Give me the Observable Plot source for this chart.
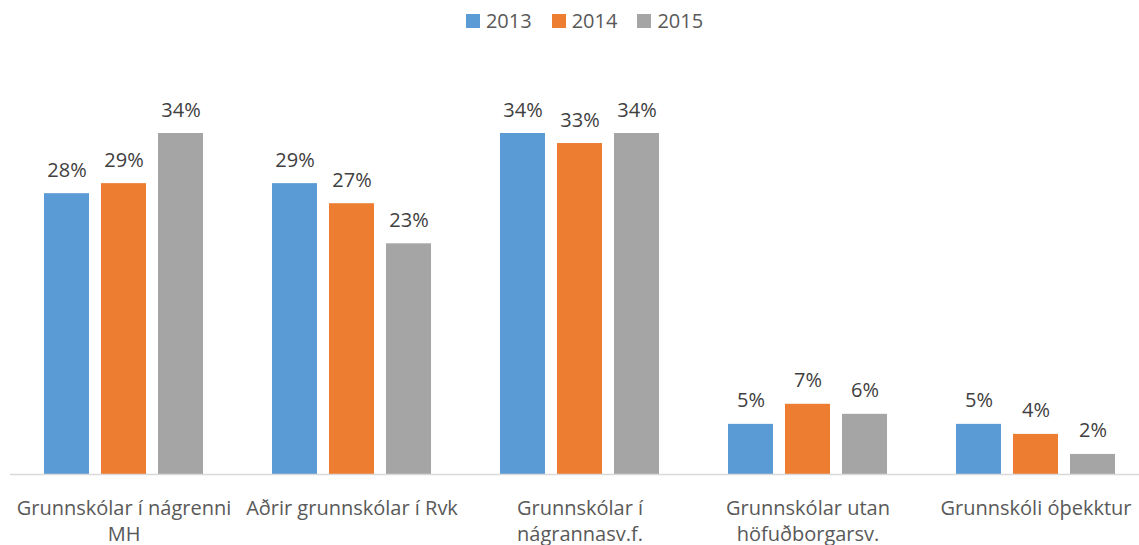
<!DOCTYPE html>
<html>
<head>
<meta charset="utf-8">
<script src="https://cdn.jsdelivr.net/npm/d3@7"></script>
<script src="https://cdn.jsdelivr.net/npm/@observablehq/plot@0.6"></script>
<style>
  body { margin: 0; background: #ffffff; font-family: "Open Sans", sans-serif; overflow: hidden; }
  #legend { display: flex; justify-content: center; box-sizing: border-box; width: 1139px; height: 40px; padding-left: 30px; padding-top: 11px; }
  .item { display: flex; align-items: center; height: 20px; font-size: 20px; line-height: 20px; color: #595959; margin-right: 20px; }
  .item:last-child { margin-right: 0; }
  .sw { width: 14px; height: 14px; margin-right: 6px; }
  #chart svg { display: block; }
</style>
</head>
<body>
<div id="legend"></div>
<div id="chart"></div>
<script>
const categories = [
  "Grunnskólar í nágrenni MH",
  "Aðrir grunnskólar í Rvk",
  "Grunnskólar í nágrannasv.f.",
  "Grunnskólar utan höfuðborgarsv.",
  "Grunnskóli óþekktur"
];
const tickLine1 = ["Grunnskólar í nágrenni", "Aðrir grunnskólar í Rvk", "Grunnskólar í", "Grunnskólar utan", "Grunnskóli óþekktur"];
const tickLine2 = ["MH", "", "nágrannasv.f.", "höfuðborgarsv.", ""];
const years = ["2013", "2014", "2015"];
const colors = ["#5B9BD5", "#ED7D31", "#A5A5A5"];
const values2013 = [28, 29, 34, 5, 5];
const values2014 = [29, 27, 33, 7, 4];
const values2015 = [34, 23, 34, 6, 2];

const series = [values2013, values2014, values2015];
const rows = [];
categories.forEach((c, i) => {
  years.forEach((y, j) => {
    rows.push({category: c, year: y, value: series[j][i], idx: i});
  });
});

// Legend
const legend = document.getElementById("legend");
years.forEach((y, j) => {
  const item = document.createElement("div");
  item.className = "item";
  const sw = document.createElement("div");
  sw.className = "sw";
  sw.style.background = colors[j];
  const t = document.createElement("span");
  t.textContent = y;
  item.appendChild(sw);
  item.appendChild(t);
  legend.appendChild(item);
});

const chart = Plot.plot({
  width: 1139,
  height: 505,
  marginTop: 93,
  marginBottom: 71,
  marginLeft: 0,
  marginRight: 0,
  style: {fontFamily: "Open Sans, sans-serif", fontSize: "20px", background: "#ffffff"},
  facet: {data: rows, x: "category"},
  fx: {domain: categories, range: [10, 1150], padding: 0, axis: null, label: null},
  x: {domain: years, paddingInner: 0.21, paddingOuter: 0.605, axis: null},
  y: {domain: [0, 34], axis: null},
  color: {domain: years, range: colors},
  marks: [
    Plot.barY(rows, {x: "year", y: "value", fill: "year"}),
    Plot.ruleY([0], {stroke: "#D9D9D9", strokeWidth: 1.3}),
    Plot.text(rows, {x: "year", y: "value", text: d => d.value + "%", lineAnchor: "bottom", dy: -17, fill: "#404040", fontSize: 20}),
    Plot.text(rows, {filter: d => d.year === "2014", x: "year", frameAnchor: "bottom", text: d => tickLine1[d.idx], lineAnchor: "bottom", dy: 40, fill: "#595959", fontSize: 20}),
    Plot.text(rows, {filter: d => d.year === "2014", x: "year", frameAnchor: "bottom", text: d => tickLine2[d.idx], lineAnchor: "bottom", dy: 66, fill: "#595959", fontSize: 20})
  ]
});
document.getElementById("chart").appendChild(chart);
</script>
</body>
</html>
